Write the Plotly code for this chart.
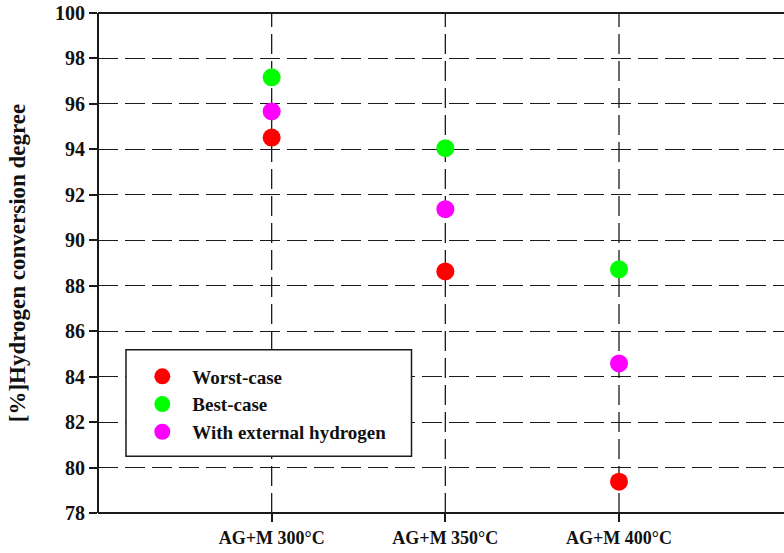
import plotly.graph_objects as go

categories = ["AG+M 300°C", "AG+M 350°C", "AG+M 400°C"]
worst_case = [94.52, 88.63, 79.38]
best_case = [97.17, 94.05, 88.72]
external_h2 = [95.67, 91.37, 84.58]
series_names = ["Worst-case", "Best-case", "With external hydrogen"]
series_colors = ["#ff0000", "#00ff00", "#ff00ff"]
y_ticks = [78, 80, 82, 84, 86, 88, 90, 92, 94, 96, 98, 100]

FONT = "Liberation Serif, Times New Roman, serif"
TXT = "#111111"
LINE = "#1a1a1a"

fig = go.Figure()
for name, vals, col in zip(series_names, [worst_case, best_case, external_h2], series_colors):
    fig.add_trace(go.Scatter(
        x=categories, y=vals, mode="markers", name="<b>" + name + "</b>",
        marker=dict(color=col, size=18, symbol="circle", line=dict(width=0)),
    ))

# vertical dashed grid lines at each category (drawn below the markers)
vgrid = [dict(type="line", xref="x", yref="paper", x0=c, x1=c, y0=0, y1=1,
              line=dict(color=LINE, width=1.3, dash="20px,7px"), layer="below")
         for c in categories]
# plot frame: left, bottom and top lines (right side is cut off in the reference)
frame = [
    dict(type="line", xref="paper", yref="paper", x0=0, x1=0, y0=0, y1=1,
         line=dict(color=LINE, width=2)),
    dict(type="line", xref="paper", yref="paper", x0=0, x1=1, y0=0, y1=0,
         line=dict(color=LINE, width=2)),
    dict(type="line", xref="paper", yref="paper", x0=0, x1=1, y0=1, y1=1,
         line=dict(color=LINE, width=2)),
]

fig.update_layout(
    width=784, height=553,
    margin=dict(l=98, r=0, t=13, b=40),
    paper_bgcolor="white", plot_bgcolor="rgba(0,0,0,0)",
    font=dict(family=FONT, size=19, color=TXT, weight=700),
    showlegend=True,
    legend=dict(
        x=0.05, y=0.311, xanchor="left", yanchor="top",
        bgcolor="rgba(0,0,0,0)", borderwidth=0,
        font=dict(family=FONT, size=19, color=TXT, weight=700),
        itemwidth=50,
    ),
    xaxis=dict(
        type="category", range=[-1, 2.95], automargin=False,
        tickvals=categories, ticktext=["<b>" + c + "</b>" for c in categories],
        showline=False, mirror=False,
        ticks="outside", ticklen=8, tickwidth=1.5, tickcolor=LINE,
        tickfont=dict(family=FONT, size=18, color=TXT, weight=700),
        zeroline=False, showgrid=False,
    ),
    yaxis=dict(
        range=[78, 100], tickvals=y_ticks, ticktext=["<b>%d</b>" % v for v in y_ticks],
        automargin=False,
        showline=False, mirror=False,
        ticks="outside", ticklen=8, tickwidth=1.5, tickcolor=LINE,
        tickfont=dict(family=FONT, size=20, color=TXT, weight=700),
        zeroline=False, showgrid=True, gridcolor=LINE, gridwidth=1.3, griddash="20px,7px",
        title=dict(text="<b>[%]Hydrogen conversion degree</b>",
                   font=dict(family=FONT, size=23, color=TXT, weight=700),
                   standoff=22),
    ),
    shapes=vgrid + frame + [
        dict(type="rect", xref="paper", yref="paper",
             x0=0.0408, x1=0.457, y0=0.1137, y1=0.3267,
             line=dict(color=LINE, width=1.5), fillcolor="white", layer="above"),
    ],
)

fig.write_html("out.html")
